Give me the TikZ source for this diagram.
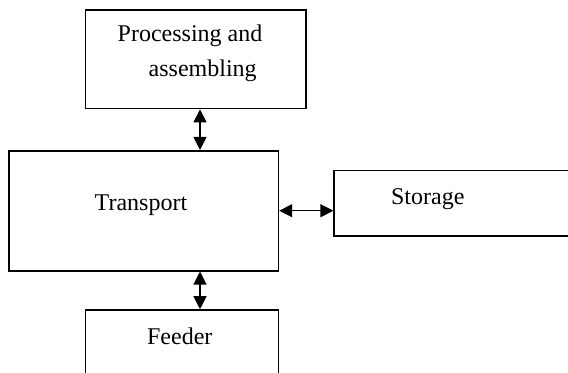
\documentclass[tikz,border=0pt]{standalone}
\usepackage{fontspec}
\setmainfont{Liberation Serif}
\usetikzlibrary{arrows.meta}
\tikzset{
  box/.style={draw, line width=0.8pt, inner sep=0pt, minimum width=#1},
  txt/.style={anchor=base west, inner sep=0pt, font=\fontsize{12}{14}\selectfont},
}
\begin{document}
\begin{tikzpicture}[x=0.5pt, y=-0.5pt, >={Triangle[length=6.5pt,width=6.5pt]}]
    \useasboundingbox (0,0) rectangle (568,372);
    \clip (0,0) rectangle (568,372);
      \node[box=110.2pt, minimum height=49.3pt] (proc) at (195.5,59.3) {};
      \node[box=134.7pt, minimum height=60pt] (trans) at (143.7,210.7) {};
      \node[box=122.8pt, minimum height=32.7pt] (stor) at (457,203.3) {};
      \node[box=96.5pt, minimum height=40pt] (feed) at (181.8,350) {};
    \node[txt] (proct1) at (117.3,41.7) {Processing and};
    \node[txt] (proct2) at (148.3,76) {assembling};
    \node[txt] (transt) at (94.3,210) {Transport};
    \node[txt] (stort) at (390.7,204) {Storage};
    \node[txt] (feedt) at (146.7,344) {Feeder};
    \coordinate (ax) at (200,0);
      \draw[<->, line width=0.6pt] (proc.south -| ax) -- (trans.north -| ax);
      \draw[<->, line width=0.6pt] (trans.east) -- (stor.west |- trans.east);
      \draw[<->, line width=0.6pt] (trans.south -| ax) -- (feed.north -| ax);
    \end{tikzpicture}
\end{document}
